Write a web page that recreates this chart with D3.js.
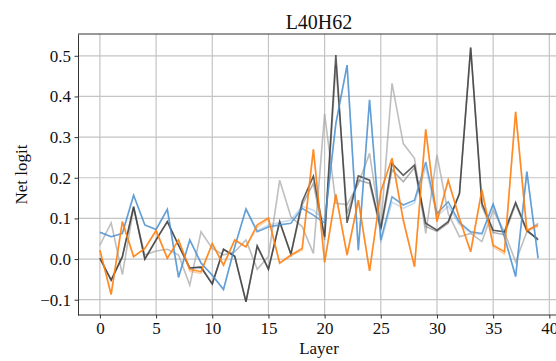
<!DOCTYPE html>
<html lang="en">
<head>
    <meta charset="UTF-8">
    <title>L40H62</title>
    <script src="https://d3js.org/d3.v7.min.js"></script>
    <style>
        body { margin: 0; padding: 0; background: #ffffff; overflow: hidden; }
        svg { display: block; font-family: 'Liberation Serif', 'DejaVu Serif', serif; }
        .grid line { stroke: #c4c4c4; stroke-width: 1.2; }
        .axis path, .axis line { stroke: #333; }
        .series { fill: none; stroke-width: 1.6; stroke-linejoin: miter; }
    </style>
</head>
<body>
<svg id="chart" width="556" height="361"></svg>
<script>
    // --- Data ---
    const layers = d3.range(0, 40);
    const xTicks = [0, 5, 10, 15, 20, 25, 30, 35, 40];
    const yTicks = [-0.1, 0.0, 0.1, 0.2, 0.3, 0.4, 0.5];

    const lightGray = [0.034, 0.089, -0.038, 0.125, 0.01, 0.02, 0.024, 0.01, -0.064, 0.067,
        0.026, 0.01, 0.018, 0.047, -0.025, 0.006, 0.194, 0.104, 0.08, 0.014,
        0.357, 0.137, 0.134, 0.185, 0.26, 0.078, 0.432, 0.284, 0.248, 0.063,
        0.256, 0.112, 0.055, 0.063, 0.043, 0.12, 0.067, -0.007, 0.067, 0.088];
    const midGray = [0.002, -0.052, 0.006, 0.129, 0.0, 0.047, 0.092, 0.034, -0.022, -0.02,
        -0.061, 0.024, 0.007, -0.105, 0.032, -0.025, 0.092, 0.012, 0.133, 0.186,
        0.047, 0.477, 0.112, 0.194, 0.186, 0.07, 0.22, 0.19, 0.225, 0.08,
        0.068, 0.088, 0.161, 0.52, 0.13, 0.065, 0.06, 0.135, 0.068, 0.05];
    const darkGray = [0.002, -0.052, 0.006, 0.129, 0.0, 0.047, 0.092, 0.034, -0.022, -0.02,
        -0.061, 0.024, 0.007, -0.105, 0.032, -0.025, 0.092, 0.012, 0.141, 0.204,
        0.055, 0.502, 0.089, 0.205, 0.194, 0.075, 0.235, 0.206, 0.231, 0.088,
        0.071, 0.092, 0.161, 0.52, 0.137, 0.071, 0.067, 0.139, 0.071, 0.047];
    const blue2 = [0.066, 0.055, 0.063, 0.157, 0.084, 0.073, 0.122, -0.045, 0.047, -0.01,
        -0.04, -0.075, 0.03, 0.123, 0.07, 0.083, 0.09, 0.096, 0.13, 0.12,
        0.095, 0.333, 0.477, 0.022, 0.392, 0.04, 0.14, 0.125, 0.138, 0.225,
        0.105, 0.13, 0.085, 0.065, 0.06, 0.135, 0.055, -0.043, 0.215, 0.002];
    const blue = [0.066, 0.055, 0.063, 0.157, 0.084, 0.073, 0.122, -0.045, 0.047, -0.01,
        -0.04, -0.075, 0.03, 0.123, 0.067, 0.079, 0.084, 0.088, 0.125, 0.108,
        0.089, 0.333, 0.477, 0.022, 0.392, 0.047, 0.153, 0.133, 0.145, 0.239,
        0.112, 0.141, 0.09, 0.067, 0.063, 0.135, 0.055, -0.043, 0.215, 0.002];
    const orange2 = [0.022, -0.087, 0.092, 0.006, 0.026, 0.07, 0.002, 0.047, -0.03, -0.035,
        0.038, -0.015, 0.047, 0.03, 0.078, 0.098, -0.01, 0.008, 0.022, 0.27,
        -0.008, 0.159, 0.01, 0.145, -0.029, 0.166, 0.248, 0.096, -0.019, 0.319,
        0.092, 0.194, 0.1, 0.018, 0.17, 0.03, 0.012, 0.362, 0.068, 0.08];
    const orange = [0.022, -0.087, 0.092, 0.006, 0.026, 0.07, 0.002, 0.047, -0.025, -0.031,
        0.038, -0.015, 0.047, 0.03, 0.084, 0.101, -0.01, 0.01, 0.026, 0.27,
        -0.008, 0.159, 0.01, 0.145, -0.029, 0.166, 0.248, 0.096, -0.019, 0.319,
        0.092, 0.194, 0.1, 0.018, 0.17, 0.034, 0.018, 0.362, 0.071, 0.084];

    const series = [
        { values: lightGray, color: "#aaaaaa", opacity: 0.75 },
        { values: midGray, color: "#666666", opacity: 0.5 },
        { values: darkGray, color: "#333333", opacity: 0.78 },
        { values: blue2, color: "#4a90d0", opacity: 0.3 },
        { values: blue, color: "#4a90d0", opacity: 0.8 },
        { values: orange2, color: "#ff7f0e", opacity: 0.35 },
        { values: orange, color: "#ff7f0e", opacity: 0.85 }
    ];

    // --- Layout ---
    const svg = d3.select("#chart");
    const plotLeft = 78, plotRight = 560, plotTop = 34, plotBottom = 315;
    const serif = "'Liberation Serif', 'DejaVu Serif', serif";

    const x = d3.scaleLinear().domain([-1.95, 40.95]).range([plotLeft, plotRight]);
    const y = d3.scaleLinear().domain([-0.1376, 0.5536]).range([plotBottom, plotTop]);

    // gridlines
    const grid = svg.append("g").attr("class", "grid");
    grid.selectAll("line.v").data(xTicks).enter().append("line")
        .attr("x1", d => x(d)).attr("x2", d => x(d))
        .attr("y1", plotTop).attr("y2", plotBottom);
    grid.selectAll("line.h").data(yTicks).enter().append("line")
        .attr("x1", plotLeft).attr("x2", plotRight)
        .attr("y1", d => y(d)).attr("y2", d => y(d));

    // lines
    const line = d3.line()
        .x((d, i) => x(layers[i]))
        .y(d => y(d));

    svg.append("g").selectAll("path")
        .data(series)
        .enter().append("path")
        .attr("class", "series")
        .attr("d", d => line(d.values))
        .attr("stroke", d => d.color)
        .attr("stroke-opacity", d => d.opacity);

    // axes
    const xAxis = d3.axisBottom(x).tickValues(xTicks).tickFormat(d3.format("d"))
        .tickSize(3.5).tickPadding(3.5).tickSizeOuter(0);
    const yAxis = d3.axisLeft(y).tickValues(yTicks).tickFormat(d3.format(".1f"))
        .tickSize(3.5).tickPadding(3.5).tickSizeOuter(0);

    const gx = svg.append("g").attr("class", "axis")
        .attr("transform", `translate(0,${plotBottom})`).call(xAxis);
    gx.select(".domain").attr("d", `M${plotLeft},0H${plotRight}`);

    svg.append("g").attr("class", "axis")
        .attr("transform", `translate(${plotLeft},0)`).call(yAxis);

    svg.selectAll(".axis text")
        .style("font-family", serif)
        .style("font-size", "17px")
        .style("fill", "#111");

    // top spine
    svg.append("line")
        .attr("x1", plotLeft).attr("x2", plotRight)
        .attr("y1", plotTop).attr("y2", plotTop)
        .attr("stroke", "#333");

    // labels
    svg.append("text")
        .attr("x", (plotLeft + plotRight) / 2).attr("y", 29)
        .attr("text-anchor", "middle")
        .style("font-size", "20px")
        .attr("fill", "#111")
        .text("L40H62");

    svg.append("text")
        .attr("x", (plotLeft + plotRight) / 2).attr("y", 354)
        .attr("text-anchor", "middle")
        .style("font-size", "17px")
        .attr("fill", "#111")
        .text("Layer");

    svg.append("text")
        .attr("transform", `translate(26.5,${(plotTop + plotBottom) / 2}) rotate(-90)`)
        .attr("text-anchor", "middle")
        .style("font-size", "17px")
        .attr("fill", "#111")
        .text("Net logit");
</script>
</body>
</html>
